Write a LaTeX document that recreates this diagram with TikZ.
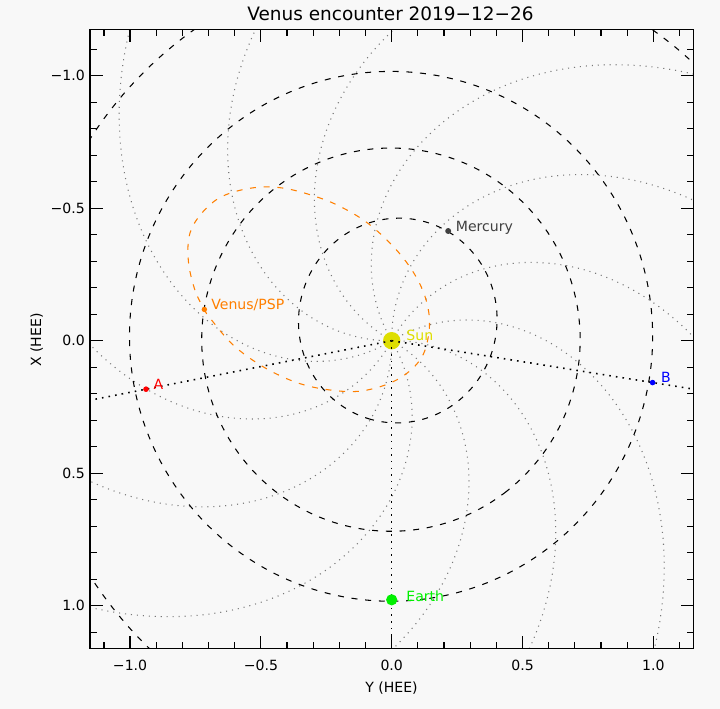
\documentclass[tikz,border=0pt]{standalone}
\usepackage{fontspec}
\setmainfont{DejaVu Sans}

\definecolor{bgcol}{RGB}{248,248,248}
\definecolor{sunyel}{RGB}{222,222,0}
\definecolor{earthgrn}{RGB}{0,240,0}
\definecolor{pspor}{RGB}{255,127,0}
\definecolor{mercgray}{RGB}{64,64,64}
\definecolor{spiralgray}{RGB}{120,120,120}

\begin{document}
\begin{tikzpicture}[
  x=0.02cm, y=-0.02cm,
  orbit/.style={black, line width=0.6pt, dash pattern=on 3.4pt off 4.4pt},
  psporbit/.style={pspor, line width=0.6pt, dash pattern=on 3.4pt off 4.4pt},
  spiral/.style={spiralgray, line width=0.6pt, dash pattern=on 0.6pt off 2.8pt},
  sunline/.style={black, line width=0.9pt, dash pattern=on 0.9pt off 2.9pt},
  body/.style={circle, inner sep=0pt, minimum size=#1},
  lbl/.style={anchor=base west, inner sep=0pt, font=\fontsize{8}{10}\selectfont},
  ticklbl/.style={inner sep=0pt, font=\fontsize{8}{10}\selectfont},
  axis/.style={line width=0.7pt}
]
% page size
\fill[bgcol] (0,0) rectangle (720,709);

\node[inner sep=0pt, anchor=base, font=\fontsize{10.5}{12}\selectfont] (title) at (390.5,20.3) {Venus encounter 2019−12−26};
\node[ticklbl, anchor=base] (ylabel) at (391.5,692) {Y (HEE)};
\node[ticklbl, anchor=base, rotate=90] (xlabel) at (41,340) {X (HEE)};

% data frame: Y to the right, X downwards, in AU
\begin{scope}[shift={(391.7,340.7)}, x=5.234cm, y=-5.3cm]
  \begin{scope}
    \clip (-1.1528,-1.175) rectangle (1.1525,1.161);
    % Parker spirals
    \foreach \p in {0,...,11}
      \draw[spiral] plot[domain=0:1.7, samples=90, smooth]
        ({\x*cos(0.7+30*\p-52*\x)}, {-\x*sin(0.7+30*\p-52*\x)});
    % orbits of Mercury, Venus, Earth, Mars (a/e/perihelion angle)
    \foreach \a/\e/\w in {0.3871/0.2056/-17, 0.7233/0.0068/37, 1.0/0.0167/8.4, 1.5237/0.0934/241.5}
      \draw[orbit] plot[domain=0:360, samples=140, smooth]
        ({\a*(cos(\x)-\e)*sin(\w) + \a*sqrt(1-\e*\e)*sin(\x)*cos(\w)},
         {\a*(cos(\x)-\e)*cos(\w) - \a*sqrt(1-\e*\e)*sin(\x)*sin(\w)});
    % PSP orbit in HEE
    \draw[psporbit] plot[smooth cycle, tension=0.6] coordinates {
      (-0.716,-0.118) (-0.752,-0.191) (-0.777,-0.300) (-0.771,-0.406)
      (-0.721,-0.487) (-0.645,-0.546) (-0.530,-0.577) (-0.415,-0.576)
      (-0.287,-0.543) (-0.186,-0.501) (-0.083,-0.437) (0.024,-0.336)
      (0.100,-0.229) (0.139,-0.123) (0.141,-0.022) (0.108,0.073)
      (0.019,0.148) (-0.110,0.189) (-0.236,0.186) (-0.363,0.158)
      (-0.492,0.098) (-0.606,0.016) (-0.694,-0.085)};

    \node[body=9.9pt, fill=sunyel] (sun) at (0,0) {};
    \coordinate (edgeA) at (-1.1528,0.2247);
    \coordinate (edgeB) at (1.1525,0.1826);
    \coordinate (edgeE) at (0,1.161);
    \draw[sunline] (sun.center) -- (edgeA);
    \draw[sunline] (sun.center) -- (edgeB);
    \draw[sunline] (sun.center) -- (edgeE);
  \end{scope}

  \node[body=6.4pt, fill=earthgrn] (earth) at (0,0.978) {};
  \node[body=3.2pt, fill=red] (staA) at (-0.939,0.183) {};
  \node[body=3.2pt, fill=blue] (staB) at (0.997,0.158) {};
  \node[body=3.4pt, fill=mercgray] (mercury) at (0.216,-0.414) {};
  \node[body=3.1pt, fill=pspor] (venus) at (-0.716,-0.118) {};

  \node[lbl, text=sunyel, xshift=8.2pt] (sunlbl) at (sun.center) {Sun};
  \node[lbl, text=earthgrn, xshift=8.2pt, yshift=-1.2pt] (earthlbl) at (earth.center) {Earth};
  \node[lbl, text=red, xshift=4.2pt] (staAlbl) at (staA.center) {A};
  \node[lbl, text=blue, xshift=4.6pt] (staBlbl) at (staB.center) {B};
  \node[lbl, text=mercgray, xshift=4.2pt] (mercurylbl) at (mercury.center) {Mercury};
  \node[lbl, text=pspor, xshift=3.8pt] (venuslbl) at (venus.center) {Venus/PSP};

  % frame and ticks
  \draw[axis] (-1.1528,-1.175) rectangle (1.1525,1.161);
  \foreach \i in {-11,...,11} {
    \draw[axis] ({\i/10},1.161) -- ++(0pt,3.8pt);
    \draw[axis] ({\i/10},-1.175) -- ++(0pt,-3.8pt);
    \draw[axis] (-1.1528,{\i/10}) -- ++(3.8pt,0pt);
    \draw[axis] (1.1525,{\i/10}) -- ++(-3.8pt,0pt);
  }
  \foreach \i in {-10,-5,0,5,10} {
    \draw[axis] ({\i/10},1.161) -- ++(0pt,7.1pt);
    \draw[axis] ({\i/10},-1.175) -- ++(0pt,-7.1pt);
    \draw[axis] (-1.1528,{\i/10}) -- ++(7.1pt,0pt);
    \draw[axis] (1.1525,{\i/10}) -- ++(-7.1pt,0pt);
  }
  \foreach \v/\t [count=\n] in {-1/−1.0, -0.5/−0.5, 0/0.0, 0.5/0.5, 1/1.0} {
    \node[ticklbl, yshift=-9.9pt] (xt\n) at (\v,1.161) {\t};
    \node[ticklbl, anchor=east, xshift=-2.8pt] (yt\n) at (-1.1528,\v) {\t};
  }
\end{scope}
\end{tikzpicture}
\end{document}
